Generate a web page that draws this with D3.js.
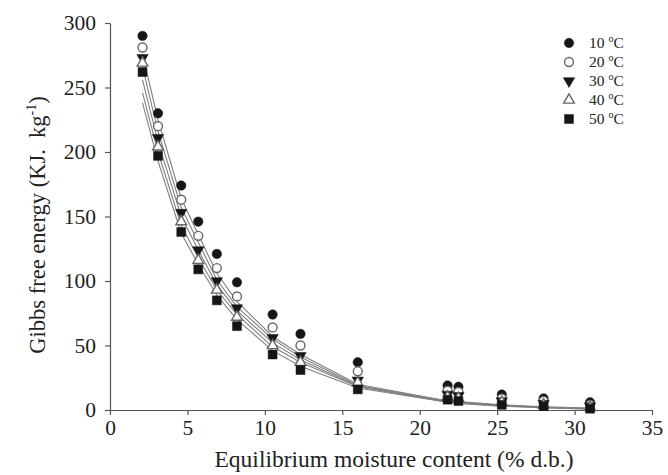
<!DOCTYPE html>
<html>
<head>
<meta charset="utf-8">
<script src="https://cdn.jsdelivr.net/npm/d3@7"></script>
<style>
  html, body { margin: 0; padding: 0; background: #fff; }
</style>
</head>
<body>
<svg id="chart" width="668" height="475"></svg>
<script>
// ---- data ----
const moisture = [2.1, 3.1, 4.6, 5.7, 6.9, 8.2, 10.5, 12.3, 16.0, 21.8, 22.5, 25.3, 28.0, 31.0];
const temperatures = ["10 °C", "20 °C", "30 °C", "40 °C", "50 °C"];
const obs10 = [290, 230, 174, 146, 121, 99, 74, 59, 37, 19, 18, 12, 9, 6];
const obs20 = [281, 220, 163, 135, 110, 88, 64, 50, 30, 15, 14, 9, 7, 4];
const obs30 = [273, 211, 153, 124, 100, 79, 56, 42, 23, 12, 11, 7, 5, 3];
const obs40 = [269, 204, 146, 116, 93, 72, 50, 37, 21, 10, 9, 6, 4, 2];
const obs50 = [262, 197, 138, 109, 85, 65, 43, 31, 16, 8, 7, 4, 3, 1];
const fit10 = [276, 225, 164, 136, 106, 84, 57, 43, 20, 7, 6.5, 4, 2.5, 1.5];
const fit20 = [266, 216, 157, 130, 101, 80, 55, 41, 19, 7, 6, 3.5, 2.2, 1.2];
const fit30 = [256, 208, 150, 124, 97, 77, 52, 39, 18.5, 6.5, 6, 3.5, 2, 1.0];
const fit40 = [246, 200, 143, 118, 93, 74, 49, 37, 18, 6, 5.5, 3, 2, 0.8];
const fit50 = [238, 193, 137, 113, 89, 70, 46, 34, 17, 6, 5, 3, 1.8, 0.6];
const xTicks = [0, 5, 10, 15, 20, 25, 30, 35];
const yTicks = [0, 50, 100, 150, 200, 250, 300];

const observed = [obs10, obs20, obs30, obs40, obs50];
const fitted = [fit10, fit20, fit30, fit40, fit50];

// ---- styles ----
const SERIF = "'Liberation Serif', 'Times New Roman', Times, Tinos, 'DejaVu Serif', serif";
const markerDefs = [
  { type: d3.symbolCircle, size: 70, rot: 0, filled: true },
  { type: d3.symbolCircle, size: 62, rot: 0, filled: false },
  { type: d3.symbolTriangle, size: 56, rot: 180, filled: true },
  { type: d3.symbolTriangle, size: 50, rot: 0, filled: false },
  { type: d3.symbolSquare, size: 80, rot: 0, filled: true }
];

const svg = d3.select("#chart");
const x = d3.scaleLinear().domain([0, 35]).range([110, 652]);
const y = d3.scaleLinear().domain([0, 300]).range([410, 23]);

// axes
const axisColor = "#555";
const gx = svg.append("g").attr("transform", `translate(0,${y(0)})`)
  .call(d3.axisBottom(x).tickValues(xTicks).tickSize(5).tickSizeOuter(0).tickPadding(5).tickFormat(d3.format("d")));
const gy = svg.append("g").attr("transform", `translate(${x(0)},0)`)
  .call(d3.axisLeft(y).tickValues(yTicks).tickSize(5).tickSizeOuter(0).tickPadding(9).tickFormat(d3.format("d")));
[gx, gy].forEach(g => {
  g.attr("font-family", SERIF);
  g.select(".domain").attr("stroke", axisColor).attr("stroke-width", 1.2);
  g.selectAll(".tick line").attr("stroke", axisColor).attr("stroke-width", 1.2);
  g.selectAll(".tick text").attr("font-size", 21.5).attr("fill", "#222")
    .attr("font-family", SERIF).style("font-family", SERIF);
});

// fitted lines
const line = d3.line().x((d, i) => x(moisture[i])).y(d => y(d));
fitted.forEach(f => {
  svg.append("path").datum(f).attr("d", line)
    .attr("fill", "none").attr("stroke", "#808080").attr("stroke-width", 1.1);
});

// markers
function drawMarker(sel, def) {
  sel.attr("d", d3.symbol().type(def.type).size(def.size)())
    .attr("fill", def.filled ? "#161616" : "#fff")
    .attr("stroke", def.filled ? "#161616" : "#666")
    .attr("stroke-width", def.filled ? 0.5 : 1.4);
}
observed.forEach((obs, k) => {
  const def = markerDefs[k];
  svg.append("g").selectAll("path").data(obs).join("path")
    .attr("transform", (d, i) => `translate(${x(moisture[i])},${y(d)}) rotate(${def.rot})`)
    .call(drawMarker, def);
});

// legend
const leg = svg.append("g");
temperatures.forEach((t, k) => {
  const ly = 43 + k * 19;
  const def = markerDefs[k];
  leg.append("path").attr("transform", `translate(569,${ly}) rotate(${def.rot})`).call(drawMarker, def);
  const parts = t.split(" ");
  const txt = leg.append("text").attr("x", 589).attr("y", ly + 5)
    .attr("font-size", 15.5).attr("fill", "#222").style("font-family", SERIF);
  txt.append("tspan").text(parts[0] + " ");
  txt.append("tspan").attr("font-size", 10).attr("dy", -6).text("o");
  txt.append("tspan").attr("dy", 6).text("C");
});

// axis titles
svg.append("text").attr("x", 394).attr("y", 467).attr("text-anchor", "middle")
  .attr("font-size", 23.5).attr("fill", "#222").style("font-family", SERIF)
  .text("Equilibrium moisture content (% d.b.)");
const yt = svg.append("text").attr("transform", "translate(45,225) rotate(-90)")
  .attr("text-anchor", "middle").attr("font-size", 22.5).attr("fill", "#222")
  .style("font-family", SERIF).style("white-space", "pre");
yt.append("tspan").text("Gibbs free energy (KJ.  kg");
yt.append("tspan").attr("font-size", 14).attr("dy", -9).text("-1");
yt.append("tspan").attr("dy", 9).text(")");
</script>
</body>
</html>
